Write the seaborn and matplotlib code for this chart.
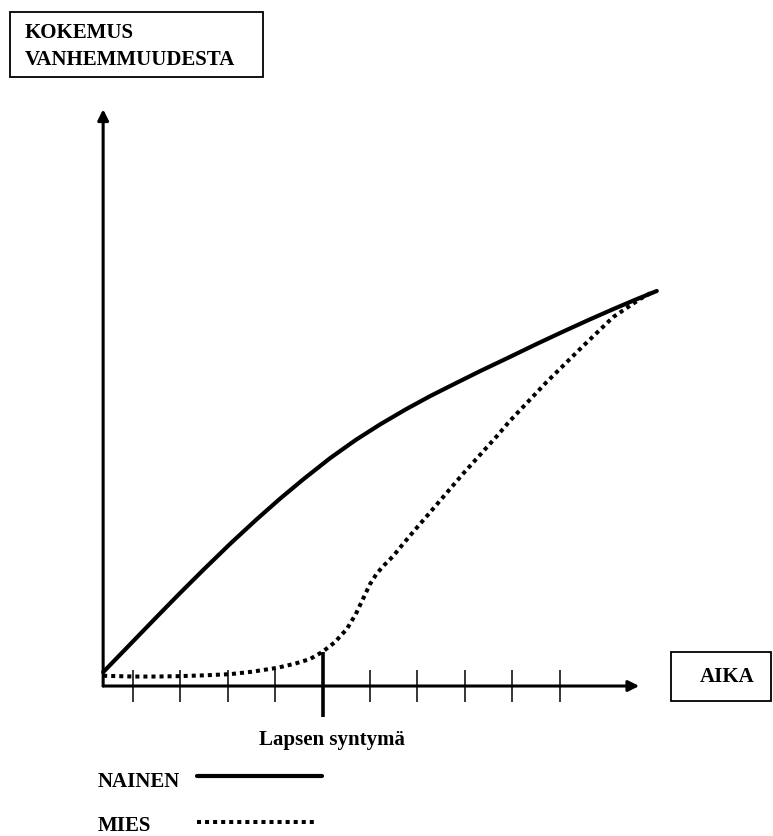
import pandas as pd
import matplotlib.pyplot as plt
from matplotlib.patches import Rectangle
from matplotlib.lines import Line2D
import seaborn as sns

## data (time in tick units, experience 0-100)
nainen_aika = [0.37, 1.0, 1.5, 1.99, 2.5, 3.05, 3.6, 4.10, 4.6, 5.16, 5.7, 6.21,
               6.75, 7.27, 7.8, 8.32, 8.95, 9.5, 10.07, 10.6, 11.13, 11.6, 12.05]
nainen_kokemus = [3.5, 11.3, 17.5, 23.5, 29.6, 36.0, 42.1, 47.4, 52.4, 57.7, 62.3, 66.2,
                  70.0, 73.4, 76.6, 79.7, 83.3, 86.5, 89.7, 92.6, 95.4, 97.8, 100.0]

mies_aika = [0.37, 1.0, 1.5, 1.99, 2.5, 3.05, 3.5, 4.04, 4.4, 4.73, 4.99, 5.25, 5.51, 5.7,
             5.85, 6.0, 6.15, 6.3, 6.49, 6.7, 6.91, 7.27, 7.96, 8.68, 8.95, 9.73, 10.43,
             11.13, 11.70, 11.95]
mies_kokemus = [2.6, 2.4, 2.4, 2.5, 2.7, 3.0, 3.6, 4.6, 5.6, 6.8, 8.6, 11.0, 14.4, 18.2,
                22.0, 25.8, 28.6, 30.6, 32.9, 36.0, 39.0, 44.0, 53.7, 63.3, 67.1, 77.0, 85.3,
                93.4, 98.0, 99.7]

ticks = [1, 2, 3, 4, 5, 6, 7, 8, 9, 10]
syntyma = 5
alku = 0.37
x_loppu = 11.68
y_loppu = 146

y_label = ['KOKEMUS', 'VANHEMMUUDESTA']
x_label = 'AIKA'
tick_label = 'Lapsen syntymä'
sarjat = ['NAINEN', 'MIES']

sns.set_style("white")
plt.rcParams['font.family'] = ['Liberation Serif', 'DejaVu Serif']
plt.rcParams['font.weight'] = 'bold'
plt.rcParams['text.color'] = 'black'

W, H = 773, 837
fig = plt.figure(figsize=(W / 100, H / 100), dpi=100)
ax = fig.add_axes([0, 0, 1, 1])
ax.set_xlim(-1.806, 14.502)
ax.set_ylim(-37.97, 173.92)
ax.axis('off')

def fx(px):
    return px / W

def fy(py):
    return 1 - py / H

# curves
df_n = pd.DataFrame({'aika': nainen_aika, 'kokemus': nainen_kokemus})
df_m = pd.DataFrame({'aika': mies_aika, 'kokemus': mies_kokemus})
sns.lineplot(data=df_n, x='aika', y='kokemus', ax=ax, color='black', lw=3.0,
             sort=False, zorder=3)
sns.lineplot(data=df_m, x='aika', y='kokemus', ax=ax, color='black', lw=2.9,
             linestyle=(0, (1, 1)), dash_capstyle='butt', sort=False, zorder=3)

# axes with arrows
arr = dict(arrowstyle='-|>', lw=2.2, color='black', mutation_scale=16, shrinkA=0, shrinkB=0)
ax.annotate('', xy=(x_loppu, 0), xytext=(alku, 0), arrowprops=arr)
ax.annotate('', xy=(alku, y_loppu), xytext=(alku, 0), arrowprops=arr)

# ticks
for t in ticks:
    if t == syntyma:
        ax.vlines(t, -7.9, 8.6, color='black', lw=2.6)
    else:
        ax.vlines(t, -4.1, 4.1, color='black', lw=1.1)

ax.text(syntyma + 0.19, -14.6, tick_label, ha='center', va='baseline', fontsize=15,
        color='black')

# label boxes
fig.add_artist(Rectangle((fx(10), fy(78)), fx(263) - fx(10), fy(13) - fy(78),
                         fill=False, lw=1.3, ec='black', transform=fig.transFigure))
fig.text(fx(25), fy(33), y_label[0], ha='left', va='center', fontsize=15, color='black')
fig.text(fx(25), fy(60), y_label[1], ha='left', va='center', fontsize=15, color='black')

fig.add_artist(Rectangle((fx(671), fy(702)), fx(771) - fx(671), fy(653) - fy(702),
                         fill=False, lw=1.3, ec='black', transform=fig.transFigure))
fig.text(fx(727), fy(677), x_label, ha='center', va='center', fontsize=15, color='black')

# legend drawn by hand
fig.text(fx(98), fy(787), sarjat[0], ha='left', va='baseline', fontsize=15, color='black')
fig.add_artist(Line2D([fx(197), fx(322)], [fy(777), fy(777)], color='black', lw=3.0,
                      transform=fig.transFigure))
fig.text(fx(98), fy(831), sarjat[1], ha='left', va='baseline', fontsize=15, color='black')
fig.add_artist(Line2D([fx(197), fx(317)], [fy(823), fy(823)], color='black', lw=2.9,
                      linestyle=(0, (1, 1)), dash_capstyle='butt', transform=fig.transFigure))

fig.savefig('out.png', dpi=100)
